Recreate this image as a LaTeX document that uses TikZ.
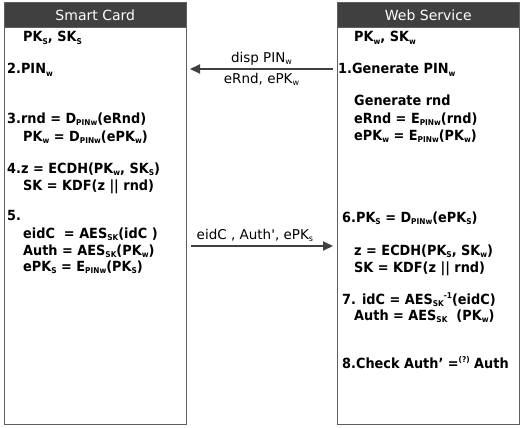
\documentclass[tikz,border=0pt]{standalone}
\usepackage{fontspec}
\setmainfont{DejaVu Sans}[FakeStretch=0.92]
\newfontfamily\lblfont{DejaVu Sans}
\usetikzlibrary{positioning}
\usetikzlibrary{arrows.meta}

\definecolor{frame}{RGB}{95,95,95}
\definecolor{darkhead}{RGB}{64,64,64}

\newcommand{\sub}[1]{\raisebox{-0.3ex}{\fontsize{8}{8}\selectfont #1}}
\newcommand{\upr}[1]{\raisebox{0.75ex}{\fontsize{8}{8}\selectfont #1}}

\begin{document}
\begin{tikzpicture}[
        x=1pt, y=-1pt,
        panel/.style={
            draw=frame,
            line width=1.5pt,
            fill=white,
            minimum width=182pt,
            minimum height=421.5pt,
            anchor=north west,
            inner sep=0pt,
        },
        head/.style={
            draw=frame,
            line width=1.5pt,
            fill=darkhead,
            text=white,
            font=\lblfont\fontsize{14}{16}\selectfont,
            minimum width=182pt,
            minimum height=25pt,
            anchor=north,
            inner sep=0pt,
        },
        line/.style={
            anchor=base west,
            inner sep=0pt,
            font=\fontsize{14}{16}\selectfont\bfseries,
        },
        msg/.style={
            draw=darkhead,
            line width=2pt,
            -{Triangle[length=10pt,width=9pt]},
        },
        lbl/.style={
            font=\lblfont\fontsize{13.5}{16}\selectfont,
            inner sep=3pt,
        },
    ]
    \useasboundingbox (0,0) rectangle (522,428);

    % Define both parties.
    \node[panel] (card) at (3.5,2) {};
    \node[panel] (web) at (336.5,2) {};

    \node[head] (cardhead) at (card.north) {Smart Card};
    \node[head] (webhead) at (web.north) {Web Service};

    % Smart card steps.
    \node[line] (c0) at (23,42) {PK\sub{S}, SK\sub{S}};
    \node[line] (c2) at (7,74) {2.PIN\sub{w}};
    \node[line] (c3) at (7,123) {3.rnd = D\sub{PINw}(eRnd)};
    \node[line] (c3b) at (23,141) {PK\sub{w} = D\sub{PINw}(ePK\sub{w})};
    \node[line] (c4) at (7,173) {4.z = ECDH(PK\sub{w}, SK\sub{S})};
    \node[line] (c4b) at (23,190) {SK = KDF(z || rnd)};
    \node[line] (c5) at (7,220) {5.};
    \node[line] (c5a) at (23,238) {eidC\ \ = AES\sub{SK}(idC )};
    \node[line] (c5b) at (23,255) {Auth = AES\sub{SK}(PK\sub{w})};
    \node[line] (c5c) at (23,271) {ePK\sub{S} = E\sub{PINw}(PK\sub{S})};

    % Web service steps.
    \node[line] (w0) at (354,42) {PK\sub{w}, SK\sub{w}};
    \node[line] (w1) at (338,74) {1.Generate PIN\sub{w}};
    \node[line] (w1a) at (354,106) {Generate rnd};
    \node[line] (w1b) at (354,123) {eRnd = E\sub{PINw}(rnd)};
    \node[line] (w1c) at (354,140) {ePK\sub{w} = E\sub{PINw}(PK\sub{w})};
    \node[line] (w6) at (342,222) {6.PK\sub{S} = D\sub{PINw}(ePK\sub{S})};
    \node[line] (w6a) at (354,255) {z = ECDH(PK\sub{S}, SK\sub{w})};
    \node[line] (w6b) at (354,272) {SK = KDF(z || rnd)};
    \node[line] (w7) at (342,304) {7. idC = AES\sub{SK}\upr{-1}(eidC)};
    \node[line] (w7a) at (354,320) {Auth = AES\sub{SK}\ \ (PK\sub{w})};
    \node[line] (w8) at (342,368) {8.Check Auth’ =\upr{(?)} Auth};

    % Define message ends.
    \coordinate (m1s) at (333,69);
    \coordinate (m1e) at (190,69);
    \coordinate (m2s) at (191,246);
    \coordinate (m2e) at (333,246);

    % Draw messages.
    \draw[msg] (m1s) -- node[lbl, above] {disp PIN\sub{w}}
        node[lbl, below] {eRnd, ePK\sub{w}} (m1e);
    \draw[msg] (m2s) -- node[lbl, above, pos=0.45] {eidC , Auth', ePK\sub{s}} (m2e);

\end{tikzpicture}
\end{document}
